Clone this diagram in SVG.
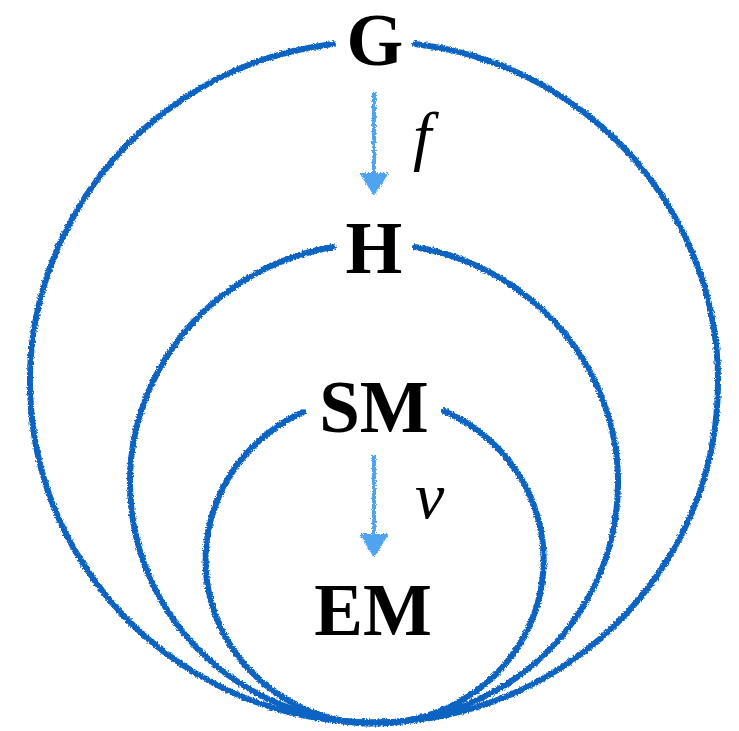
<svg xmlns="http://www.w3.org/2000/svg" width="739" height="731" viewBox="0 0 739 731">
<defs>
<filter id="rough" x="-5%" y="-5%" width="110%" height="110%">
<feTurbulence type="fractalNoise" baseFrequency="0.6" numOctaves="2" seed="3" result="n"/>
<feDisplacementMap in="SourceGraphic" in2="n" scale="4" xChannelSelector="R" yChannelSelector="G"/>
</filter>
</defs>
<style>
.ring{fill:none;stroke:#0a64c2;stroke-width:6;stroke-linecap:round}
.lbl{font-family:"Liberation Serif","Times New Roman",serif;font-weight:bold;font-size:73px;fill:#000;text-anchor:middle}
.math{font-family:"Liberation Serif","Times New Roman",serif;font-style:italic;font-size:66px;fill:#000}
.arr{stroke:#4fa3ef;stroke-width:4;fill:none}
.ah{fill:#4fa3ef;stroke:#4fa3ef;stroke-width:2;stroke-linejoin:round}
</style>
<g id="connectors" filter="url(#rough)">
<g id="ring-G">
<path class="ring" d="M 333 44 A 344 340.5 0 1 0 415 44"/>
</g>
<g id="ring-H">
<path class="ring" d="M 333 247 A 244 239.5 0 1 0 415 247"/>
</g>
<g id="ring-SM">
<path class="ring" d="M 303 412 A 169 163.5 0 1 0 444 411"/>
</g>
<g id="arrow-f">
<line class="arr" x1="374" y1="93" x2="374" y2="176"/>
<path class="ah" d="M 361 174 L 387 174 L 374 194 Z"/>
</g>
<g id="arrow-v">
<line class="arr" x1="374" y1="455" x2="374" y2="537"/>
<path class="ah" d="M 361 535 L 387 535 L 374 556 Z"/>
</g>
</g>
<g id="node-G"><text class="lbl" x="375" y="65">G</text></g>
<g id="node-H"><text class="lbl" x="374" y="273">H</text></g>
<g id="node-SM"><text class="lbl" x="374" y="432">SM</text></g>
<g id="node-EM"><text class="lbl" x="373" y="635">EM</text></g>
<g id="label-f"><text class="math" x="413" y="158">f</text></g>
<g id="label-v"><text class="math" x="415" y="518">v</text></g>
</svg>
